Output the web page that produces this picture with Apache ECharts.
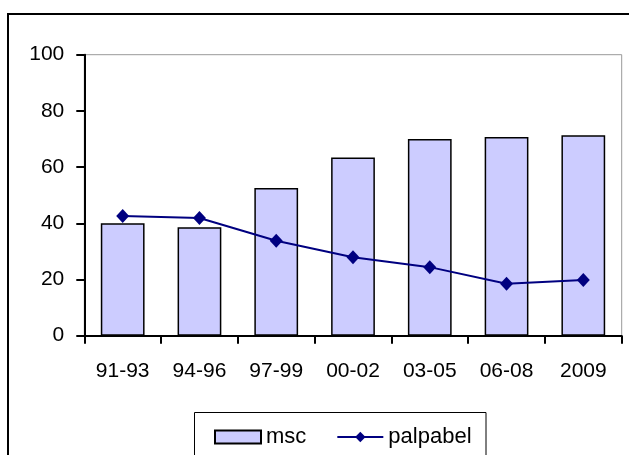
<!DOCTYPE html>
<html>
<head>
<meta charset="utf-8">
<script src="https://cdn.jsdelivr.net/npm/echarts@6/dist/echarts.min.js"></script>
<style>
html,body{margin:0;padding:0;background:#fff;}
#c{width:629px;height:455px;}
</style>
</head>
<body>
<div id="c"></div>
<script>
var categories = ['91-93','94-96','97-99','00-02','03-05','06-08','2009'];
var mscValues = [40.0, 38.6, 52.6, 63.4, 70.0, 70.7, 71.3];
var palpabelValues = [42.6, 41.9, 33.8, 27.9, 24.4, 18.5, 19.8];
var yTicks = {min: 0, max: 100, interval: 20};

var FONT = '"Liberation Sans", Arial, sans-serif';
var chart = echarts.init(document.getElementById('c'), null, {renderer: 'canvas'});
chart.setOption({
  animation: false,
  backgroundColor: '#fff',
  textStyle: {fontFamily: FONT},
  graphic: [
    {type: 'rect', shape: {x: 8, y: 14, width: 700, height: 500},
     style: {fill: 'none', stroke: '#000', lineWidth: 2}, z: 100, silent: true},
    {type: 'rect', shape: {x: 194.5, y: 412.5, width: 291.5, height: 46},
     style: {fill: '#fff', stroke: '#000', lineWidth: 1}, z: 0, silent: true}
  ],
  grid: {left: 84.3, right: 7.3, top: 54.7, bottom: 119.3, show: true,
         borderColor: '#999', borderWidth: 1, backgroundColor: 'transparent'},
  legend: {
    left: 209, top: 421, itemWidth: 46, itemHeight: 13, itemGap: 30,
    textStyle: {fontSize: 22, color: '#000', fontFamily: FONT},
    data: [{name: 'msc', icon: 'rect'}, {name: 'palpabel'}]
  },
  xAxis: {
    type: 'category', data: categories, boundaryGap: true,
    axisLine: {lineStyle: {color: '#000', width: 2}},
    axisTick: {show: true, length: 8, interval: 0, lineStyle: {color: '#000', width: 2}},
    axisLabel: {fontSize: 21, color: '#000', margin: 25, interval: 0, fontFamily: FONT},
    splitLine: {show: false}
  },
  yAxis: {
    type: 'value', min: yTicks.min, max: yTicks.max, interval: yTicks.interval,
    axisLine: {show: true, lineStyle: {color: '#000', width: 2}},
    axisTick: {show: true, length: 8, lineStyle: {color: '#000', width: 2}},
    axisLabel: {fontSize: 21, color: '#000', margin: 20, fontFamily: FONT},
    splitLine: {show: false}
  },
  series: [
    {name: 'msc', type: 'bar', data: mscValues, barCategoryGap: '43%',
     itemStyle: {color: '#ccccff', borderColor: '#000', borderWidth: 1.5}},
    {name: 'palpabel', type: 'line', data: palpabelValues,
     symbol: 'diamond', symbolSize: [13, 14],
     lineStyle: {color: '#000080', width: 2},
     itemStyle: {color: '#000080'}}
  ]
});
</script>
</body>
</html>
